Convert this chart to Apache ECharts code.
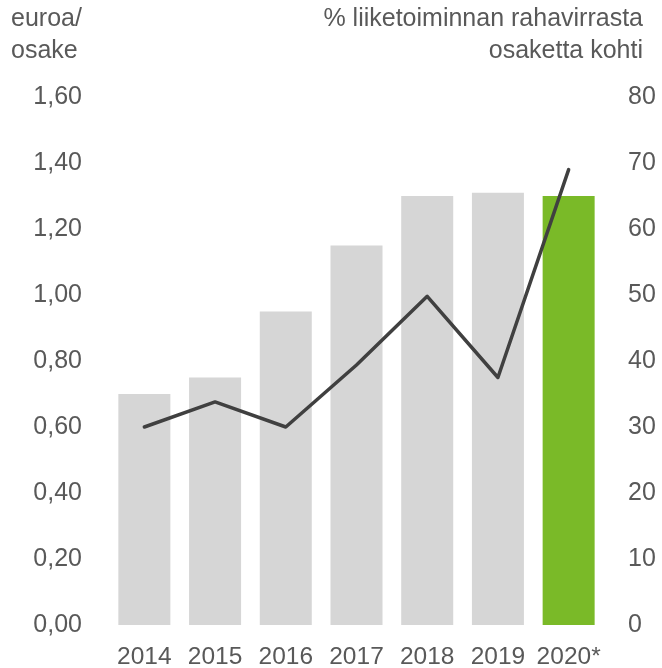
<!DOCTYPE html>
<html>
<head>
<meta charset="utf-8">
<script src="https://cdn.jsdelivr.net/npm/echarts@6/dist/echarts.min.js"></script>
<style>
  html, body { margin: 0; padding: 0; background: #fff; }
</style>
</head>
<body>
<div id="myChart" style="width: 662px;height: 668px;"></div>
<script>
// vuodet
var years = ['2014', '2015', '2016', '2017', '2018', '2019', '2020*']
// osinko euroa/osake (vasen akseli)
var dividend = [0.70, 0.75, 0.95, 1.15, 1.30, 1.31, 1.30]
// % liiketoiminnan rahavirrasta osaketta kohti (oikea akseli)
var cashflowPct = [30, 33.8, 30, 39.4, 49.8, 37.5, 69]

var textColor = '#595959'
var fontFamily = '"Liberation Sans", Arial, sans-serif'

var myChart = echarts.init(document.getElementById('myChart'))

var option = {
  animation: false,
  grid: { left: 109, right: 58, top: 97, bottom: 43, outerBoundsMode: 'none', containLabel: false },
  graphic: [
    {
      type: 'text', x: 11, y: 3,
      style: { text: 'euroa/\nosake', fontSize: 25, lineHeight: 32, fill: textColor, fontFamily: fontFamily }
    },
    {
      type: 'text', x: 643, y: 3,
      style: { text: '% liiketoiminnan rahavirrasta\nosaketta kohti', align: 'right', fontSize: 25, lineHeight: 32, fill: textColor, fontFamily: fontFamily }
    }
  ],
  xAxis: {
    type: 'category',
    data: years,
    axisLine: { show: false },
    axisTick: { show: false },
    axisLabel: { color: textColor, fontSize: 24.5, fontFamily: fontFamily, margin: 20, interval: 0 }
  },
  yAxis: [
    {//vasen
      type: 'value', min: 0, max: 1.6, interval: 0.2,
      splitLine: { show: false },
      axisLine: { show: false },
      axisTick: { show: false },
      axisLabel: {
        color: textColor, fontSize: 25, fontFamily: fontFamily, margin: 27,
        formatter: function (v) { return v.toFixed(2).replace('.', ',') }
      }
    },
    {//oikea
      type: 'value', min: 0, max: 80, interval: 10,
      splitLine: { show: false },
      axisLine: { show: false },
      axisTick: { show: false },
      axisLabel: { color: textColor, fontSize: 25, fontFamily: fontFamily, margin: 24 }
    }
  ],
  series: [
    {
      type: 'bar',
      yAxisIndex: 0,
      barWidth: 52,
      data: dividend.map(function (v, i) {
        return { value: v, itemStyle: { color: i === dividend.length - 1 ? '#7aba28' : '#d6d6d6' } }
      })
    },
    {
      type: 'line',
      yAxisIndex: 1,
      data: cashflowPct,
      showSymbol: false,
      lineStyle: { color: '#404040', width: 3.5, cap: 'round', join: 'round' },
      z: 3
    }
  ]
}

myChart.setOption(option)
</script>
</body>
</html>
